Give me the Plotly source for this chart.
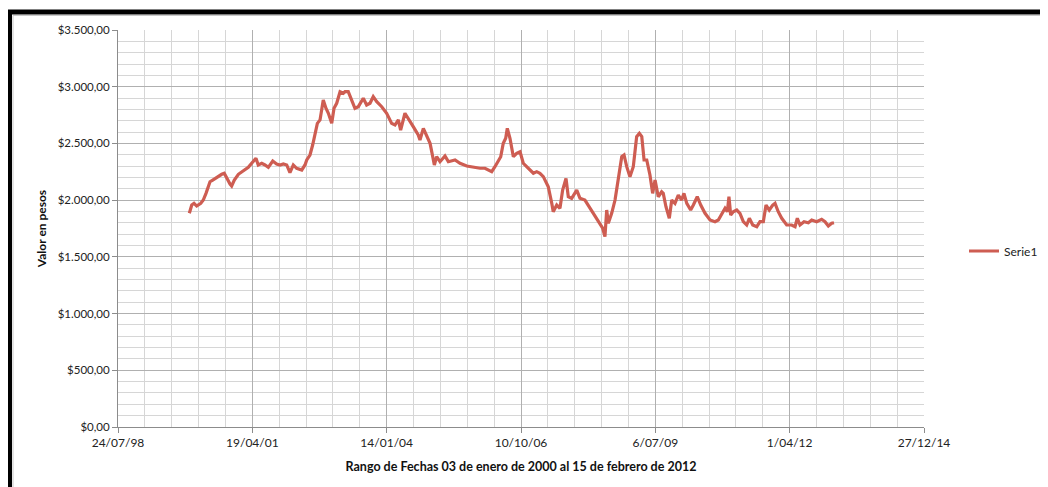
import pandas as pd
import plotly.graph_objects as go

# Excel serial dates (days since 1899-12-30)
serial_dates = [
    36531, 36549, 36566, 36586, 36616, 36635, 36655, 36672, 36685, 36705,
    36722, 36747, 36772, 36791, 36809, 36834, 36846, 36866, 36896, 36921,
    36945, 36970, 36995, 37027, 37044, 37070, 37094, 37119, 37152, 37181,
    37206, 37231, 37256, 37280, 37305, 37330, 37368, 37392, 37405, 37429,
    37449, 37467, 37484, 37504, 37528, 37548, 37566, 37591, 37608, 37628,
    37653, 37677, 37690, 37714, 37740, 37764, 37789, 37826, 37851, 37876,
    37900, 37926, 37963, 38000, 38037, 38062, 38087, 38104, 38136, 38161,
    38198, 38235, 38248, 38273, 38298, 38323, 38343, 38355, 38372, 38397,
    38434, 38459, 38509, 38546, 38596, 38645, 38695, 38732, 38782, 38806,
    38831, 38849, 38868, 38886, 38898, 38918, 38943, 38968, 38993, 39017,
    39042, 39067, 39092, 39117, 39141, 39166, 39203, 39229, 39240, 39266,
    39290, 39310, 39335, 39352, 39377, 39415, 39439, 39476, 39514, 39551,
    39588, 39608, 39625, 39638, 39650, 39675, 39700, 39724, 39750, 39767,
    39787, 39811, 39836, 39861, 39881, 39899, 39916, 39936, 39960, 39980,
    39998, 40022, 40047, 40059, 40079, 40104, 40122, 40146, 40171, 40196,
    40213, 40234, 40263, 40283, 40312, 40338, 40370, 40407, 40444, 40469,
    40494, 40519, 40536, 40548, 40561, 40580, 40606, 40630, 40655, 40680,
    40700, 40725, 40755, 40779, 40804, 40824, 40848, 40874, 40891, 40915,
    40941, 40978, 41015, 41040, 41057, 41077, 41107, 41139, 41164, 41201,
    41238, 41263, 41288, 41313, 41330,
]

valores = [
    1884, 1957, 1972, 1948, 1972, 2001, 2060, 2118, 2162, 2177,
    2192, 2207, 2228, 2237, 2192, 2142, 2125, 2177, 2228, 2251,
    2266, 2289, 2325, 2369, 2310, 2325, 2310, 2289, 2345, 2319,
    2310, 2319, 2310, 2242, 2310, 2281, 2266, 2310, 2354, 2398,
    2486, 2589, 2677, 2707, 2883, 2810, 2766, 2677, 2810, 2854,
    2956, 2942, 2956, 2956, 2883, 2810, 2824, 2898, 2839, 2854,
    2912, 2868, 2824, 2766, 2677, 2662, 2707, 2618, 2766, 2721,
    2648, 2574, 2530, 2633, 2560, 2501, 2383, 2310, 2383, 2339,
    2389, 2339, 2354, 2325, 2301, 2289, 2281, 2281, 2251, 2295,
    2354, 2383, 2501, 2545, 2633, 2545, 2383, 2413, 2427, 2325,
    2295, 2266, 2237, 2251, 2237, 2207, 2118, 1972, 1898, 1957,
    1928, 2089, 2192, 2030, 2016, 2089, 2016, 2001, 1928, 1854,
    1796, 1752, 1678, 1913, 1796, 1884, 2001, 2207, 2383, 2398,
    2295, 2207, 2295, 2560, 2589, 2560, 2354, 2354, 2222, 2060,
    2177, 2030, 2074, 2060, 1942, 1840, 2001, 1972, 2045, 2001,
    2060, 1972, 1913, 1957, 2030, 1957, 1884, 1825, 1810, 1825,
    1884, 1928, 1898, 2030, 1869, 1898, 1913, 1884, 1810, 1781,
    1840, 1781, 1766, 1810, 1810, 1957, 1913, 1957, 1972, 1898,
    1840, 1781, 1781, 1766, 1840, 1781, 1810, 1801, 1825, 1810,
    1831, 1810, 1772, 1796, 1801,
]

x_tick_dates = ["1998-07-24", "2001-04-19", "2004-01-14", "2006-10-10",
                "2009-07-06", "2012-04-01", "2014-12-27"]
x_tick_labels = ["24/07/98", "19/04/01", "14/01/04", "10/10/06",
                 "6/07/09", "1/04/12", "27/12/14"]
y_tick_vals = [0, 500, 1000, 1500, 2000, 2500, 3000, 3500]
y_tick_labels = ["$0,00", "$500,00", "$1.000,00", "$1.500,00", "$2.000,00",
                 "$2.500,00", "$3.000,00", "$3.500,00"]

fechas = pd.to_datetime(pd.Series(serial_dates), unit="D", origin="1899-12-30")

# page has an 8px body margin; lay out in screen pixels and compensate
OFF = 8
W, H = 1048 - OFF, 487 - OFF
L, T = 118 - OFF, 30 - OFF
R = 1048 - 924
B = 487 - 427
pw, ph = W - L - R, H - T - B

def px_x(p):
    return (p - OFF - L) / pw

def px_y(p):
    return (H - B - (p - OFF)) / ph

line_color = "#CE5D52"
font_family = "Lato, 'Open Sans', sans-serif"

fig = go.Figure()
fig.add_trace(go.Scatter(
    x=fechas, y=valores, mode="lines", name="Serie1",
    line=dict(color=line_color, width=3.2),
))

DAY = 86400000
fig.update_layout(
    width=W, height=H,
    margin=dict(l=L, r=R, t=T, b=B, autoexpand=False),
    paper_bgcolor="white", plot_bgcolor="white",
    font=dict(family=font_family, size=11, color="#222222"),
    showlegend=True,
    legend=dict(x=px_x(964), y=px_y(251), xanchor="left", yanchor="middle",
                font=dict(size=12, color="#222222"), bgcolor="rgba(0,0,0,0)"),
    xaxis=dict(
        type="date",
        range=[x_tick_dates[0], x_tick_dates[-1]],
        tickmode="array", tickvals=x_tick_dates, ticktext=x_tick_labels,
        showgrid=True, gridcolor="#b0b0b0", gridwidth=1,
        showline=True, linecolor="#8c8c8c", linewidth=1,
        ticks="outside", ticklen=5, tickcolor="#8c8c8c",
        minor=dict(tick0="1998-07-24", dtick=200 * DAY, showgrid=True,
                   gridcolor="#d6d6d6", gridwidth=1, ticks=""),
        zeroline=False,
        title=dict(text="<b>Rango de Fechas 03 de enero de 2000 al 15 de febrero de 2012</b>",
                   font=dict(size=12.5, color="#111111"), standoff=12),
        tickfont=dict(size=12),
    ),
    yaxis=dict(
        range=[0, 3500],
        tickmode="array", tickvals=y_tick_vals, ticktext=y_tick_labels,
        showgrid=True, gridcolor="#b0b0b0", gridwidth=1,
        showline=True, linecolor="#8c8c8c", linewidth=1,
        ticks="outside", ticklen=5, tickcolor="#8c8c8c",
        minor=dict(dtick=100, showgrid=True, gridcolor="#d6d6d6",
                   gridwidth=1, ticks=""),
        zeroline=False,
        title=dict(text="<b>Valor en pesos</b>",
                   font=dict(size=12, color="#111111"), standoff=8),
        tickfont=dict(size=11.5),
    ),
    shapes=[
        dict(type="line", xref="paper", yref="paper",
             x0=px_x(7), x1=px_x(1060), y0=px_y(12), y1=px_y(12),
             line=dict(color="black", width=5)),
        dict(type="line", xref="paper", yref="paper",
             x0=px_x(9.5), x1=px_x(9.5), y0=px_y(10), y1=px_y(500),
             line=dict(color="black", width=5)),
        dict(type="line", xref="paper", yref="paper",
             x0=px_x(13), x1=px_x(1060), y0=px_y(15.5), y1=px_y(15.5),
             line=dict(color="#c8c8c8", width=1)),
        dict(type="line", xref="paper", yref="paper",
             x0=px_x(13), x1=px_x(13), y0=px_y(15.5), y1=px_y(500),
             line=dict(color="#c8c8c8", width=1)),
    ],
)

fig.write_html("out.html")
